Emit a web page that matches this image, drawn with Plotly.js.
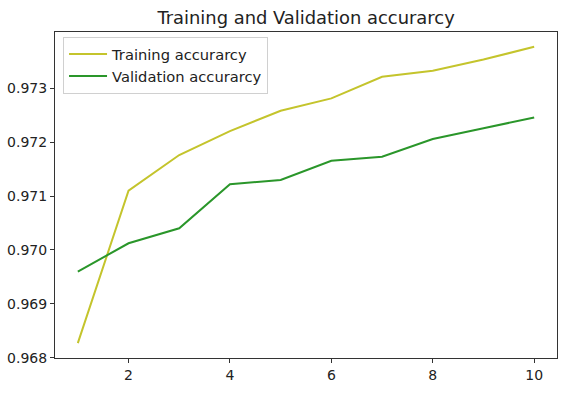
<!DOCTYPE html>
<html>
<head>
<meta charset="utf-8">
<script src="https://cdn.plot.ly/plotly-3.0.1.min.js"></script>
<style>html,body{margin:0;padding:0;background:#fff;}#chart{width:586px;height:394px;}</style>
</head>
<body>
<div id="chart"></div>
<script>
const epochs = [1, 2, 3, 4, 5, 6, 7, 8, 9, 10];
const trainingAccuracy = [0.968272, 0.971098, 0.971759, 0.972204, 0.972580, 0.972809, 0.973209, 0.973320, 0.973531, 0.973765];
const validationAccuracy = [0.969598, 0.970124, 0.970402, 0.971217, 0.971296, 0.971654, 0.971728, 0.972056, 0.972254, 0.972457];
const xTicks = [2, 4, 6, 8, 10];
const yTicks = [0.968, 0.969, 0.970, 0.971, 0.972, 0.973];
const yTickLabels = ["0.968", "0.969", "0.970", "0.971", "0.972", "0.973"];

const traces = [
  {x: epochs, y: trainingAccuracy, type: 'scatter', mode: 'lines', name: 'Training accurarcy',
   line: {color: '#c4c42c', width: 2}},
  {x: epochs, y: validationAccuracy, type: 'scatter', mode: 'lines', name: 'Validation accurarcy',
   line: {color: '#2a962a', width: 2}}
];
const tickFont = {family: 'DejaVu Sans, sans-serif', size: 14, color: '#222'};
const legendFont = {family: 'DejaVu Sans, sans-serif', size: 14.7, color: '#222'};
const layout = {
  width: 586, height: 394,
  margin: {l: 55, r: 29, t: 32, b: 36},
  paper_bgcolor: '#fff', plot_bgcolor: '#fff',
  font: tickFont,
  title: {text: 'Training and Validation accurarcy', font: {family: 'DejaVu Sans, sans-serif', size: 17.9, color: '#222'},
          x: 0.5223, xanchor: 'center', y: 0.955, yanchor: 'middle'},
  xaxis: {range: [0.55, 10.45], tickvals: xTicks, ticktext: xTicks.map(String), showgrid: false, zeroline: false,
          showline: true, mirror: true, linecolor: '#333', linewidth: 1, ticks: 'outside', ticklen: 4, tickcolor: '#333', tickfont: tickFont},
  yaxis: {range: [0.967997, 0.974040], tickvals: yTicks, ticktext: yTickLabels, showgrid: false, zeroline: false,
          showline: true, mirror: true, linecolor: '#333', linewidth: 1, ticks: 'outside', ticklen: 4, tickcolor: '#333', tickfont: tickFont},
  legend: {x: 0.016, y: 0.985, xanchor: 'left', yanchor: 'top', bgcolor: 'rgba(255,255,255,0.9)',
           bordercolor: '#d0d0d0', borderwidth: 1, font: legendFont, itemwidth: 38},
  showlegend: true
};
Plotly.newPlot('chart', traces, layout, {staticPlot: true, displayModeBar: false});
</script>
</body>
</html>
